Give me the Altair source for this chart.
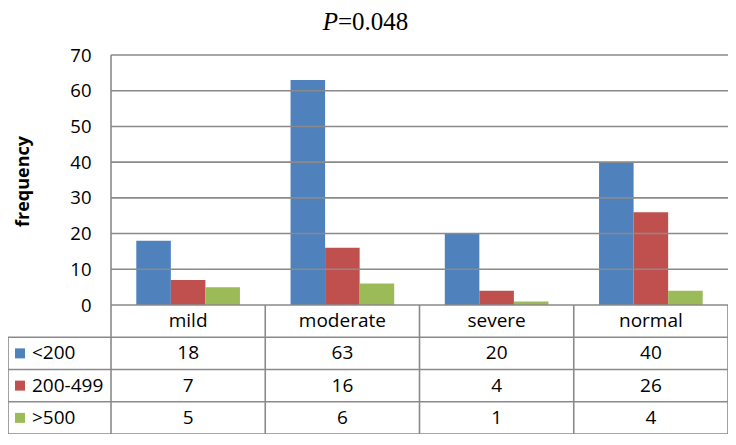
import altair as alt
import pandas as pd

# ---- data ----
categories = ["mild", "moderate", "severe", "normal"]
series = ["<200", "200-499", ">500"]
values_lt200 = [18, 63, 20, 40]
values_200_499 = [7, 16, 4, 26]
values_gt500 = [5, 6, 1, 4]
y_ticks = [0, 10, 20, 30, 40, 50, 60, 70]
colors = ["#4F81BD", "#C0504D", "#9BBB59"]

# ---- layout (pixels inside the chart canvas) ----
W, H = 720, 426
X0_PX = 103            # left edge of first category column
CAT_W = (W - X0_PX) / len(categories)
Y70_PX, Y0_PX = 47, 297
PPU = (Y0_PX - Y70_PX) / 70.0
YMAX = 70 + Y70_PX / PPU
YMIN = -(H - Y0_PX) / PPU
ROWH = (H - Y0_PX) / 4 / PPU
XMIN = -X0_PX / CAT_W


def px_x(px):
    return (px - X0_PX) / CAT_W


def px_y(py):
    return YMAX - py / PPU


xs = alt.Scale(domain=[XMIN, len(categories)], nice=False, zero=False)
ys = alt.Scale(domain=[YMIN, YMAX], nice=False, zero=False)
cs = alt.Scale(domain=series, range=colors)

FONT = "Open Sans"
LINE = "#8a8a8a"

Y_AXIS = alt.Axis(
    values=y_ticks, offset=-X0_PX, domain=False, ticks=False, grid=False,
    labelFont=FONT, labelFontSize=18.5, labelColor="black", labelPadding=20,
    title="frequency", titleFont=FONT, titleFontSize=18, titleFontWeight="bold",
    titleColor="black", titleAngle=270, titleAlign="center", titleBaseline="middle",
    titleX=-88, titleY=173)


def Y(field):
    return alt.Y(field, scale=ys, axis=Y_AXIS)


def X(field):
    return alt.X(field, scale=xs, axis=None)


all_vals = [values_lt200, values_200_499, values_gt500]
rows = []
for si, s in enumerate(series):
    for ci, c in enumerate(categories):
        rows.append({"cat": c, "ci": ci, "series": s, "si": si, "value": all_vals[si][ci]})
bars_df = pd.DataFrame(rows)

BAR_W = 0.224
bars = alt.Chart(bars_df).transform_calculate(
    bx="datum.ci + 0.5 - 1.5*%f + datum.si*%f" % (BAR_W, BAR_W),
    bx2="datum.ci + 0.5 - 1.5*%f + (datum.si+1)*%f" % (BAR_W, BAR_W),
    base="0",
).mark_bar().encode(
    x=X("bx:Q"),
    x2="bx2:Q",
    y=Y("value:Q"),
    y2="base:Q",
    color=alt.Color("series:N", scale=cs, legend=None),
)

# horizontal lines: gridlines and table row lines
h_rows = []
for v in y_ticks[1:]:
    h_rows.append({"y": v, "x": 0, "x2": len(categories)})
h_rows.append({"y": 0, "x": 0, "x2": len(categories)})
for r in range(1, 5):
    h_rows.append({"y": -r * ROWH, "x": XMIN, "x2": len(categories)})
hlines = alt.Chart(pd.DataFrame(h_rows)).mark_rule(color=LINE, strokeWidth=1.6).encode(
    x=X("x:Q"), x2="x2:Q", y=Y("y:Q"),
)

v_rows = [{"x": 0, "y": 70, "y2": -4 * ROWH}]
for i in range(1, len(categories) + 1):
    v_rows.append({"x": i, "y": 0, "y2": -4 * ROWH})
v_rows.append({"x": XMIN, "y": -ROWH, "y2": -4 * ROWH})
vlines = alt.Chart(pd.DataFrame(v_rows)).mark_rule(color=LINE, strokeWidth=1.6).encode(
    x=X("x:Q"), y=Y("y:Q"), y2="y2:Q",
)

# header text
hdr_df = pd.DataFrame({"cat": categories, "ci": list(range(len(categories)))})
header = alt.Chart(hdr_df).transform_calculate(
    tx="datum.ci + 0.5", ty="%f" % (-0.5 * ROWH)
).mark_text(font=FONT, fontSize=19, color="black", baseline="middle").encode(
    x=X("tx:Q"), y=Y("ty:Q"), text="cat:N",
)

cells = alt.Chart(bars_df).transform_calculate(
    tx="datum.ci + 0.5", ty="-(datum.si + 1.5) * %f" % ROWH
).mark_text(font=FONT, fontSize=19, color="black", baseline="middle").encode(
    x=X("tx:Q"), y=Y("ty:Q"), text="value:Q",
)

ser_df = pd.DataFrame({"series": series, "si": list(range(len(series)))})
ser_labels = alt.Chart(ser_df).transform_calculate(
    tx="%f" % px_x(24), ty="-(datum.si + 1.5) * %f" % ROWH
).mark_text(font=FONT, fontSize=19, color="black", baseline="middle", align="left").encode(
    x=X("tx:Q"), y=Y("ty:Q"), text="series:N",
)
ser_keys = alt.Chart(ser_df).transform_calculate(
    tx="%f" % px_x(12), ty="-(datum.si + 1.5) * %f" % ROWH
).mark_square(size=100, opacity=1).encode(
    x=X("tx:Q"), y=Y("ty:Q"),
    color=alt.Color("series:N", scale=cs, legend=None),
)

# title "P=0.048" (italic P)
title_df = pd.DataFrame({"a": ["P"], "b": ["=0.048"]})
t1 = alt.Chart(title_df).transform_calculate(
    tx="%f" % px_x(330), ty="%f" % px_y(14)
).mark_text(font="Liberation Serif", fontSize=25, fontStyle="italic", color="black",
            align="right", baseline="middle").encode(
    x=X("tx:Q"), y=Y("ty:Q"), text="a:N",
)
t2 = alt.Chart(title_df).transform_calculate(
    tx="%f" % px_x(330), ty="%f" % px_y(14)
).mark_text(font="Liberation Serif", fontSize=25, color="black",
            align="left", baseline="middle").encode(
    x=X("tx:Q"), y=Y("ty:Q"), text="b:N",
)

chart = alt.layer(bars, hlines, vlines, header, cells, ser_keys, ser_labels, t1, t2).properties(
    width=W, height=H, padding=0, autosize=alt.AutoSizeParams(type="none"),
    background="white",
).configure_view(strokeWidth=0)

chart.save("out.html", embed_options={"renderer": "svg", "actions": False})
